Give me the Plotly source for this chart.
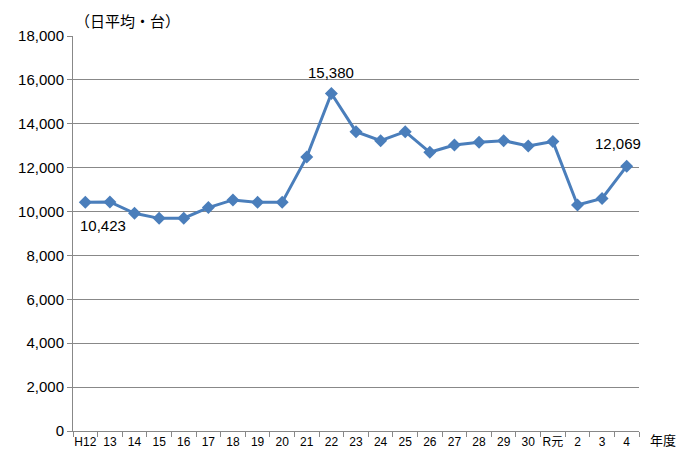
import plotly.graph_objects as go

years = ["H12", "13", "14", "15", "16", "17", "18", "19", "20", "21", "22", "23",
         "24", "25", "26", "27", "28", "29", "30", "R元", "2", "3", "4"]
values = [10423, 10440, 9920, 9690, 9700, 10180, 10530, 10420, 10420, 12490, 15380, 13640,
          13230, 13640, 12700, 13030, 13160, 13230, 12990, 13190, 10300, 10600, 12069]
# indices of labelled points
label_idx = [0, 10, 22]
label_text = ["10,423", "15,380", "12,069"]

fig = go.Figure()
fig.add_trace(go.Scatter(
    x=years, y=values, mode="lines+markers",
    line=dict(color="#4a7ebb", width=3),
    marker=dict(symbol="diamond", size=10, color="#4a7ebb"),
    cliponaxis=False, showlegend=False,
))

offsets = {0: (18, -23), 10: (0, 21), 22: (-9, 23)}
ann = []
for i, t in zip(label_idx, label_text):
    dx, dy = offsets[i]
    ann.append(dict(x=i, y=values[i], text=t, showarrow=False,
                    xshift=dx, yshift=dy, xanchor="center", yanchor="middle",
                    font=dict(size=15, family="Liberation Sans, Noto Sans", color="#000")))

ann.append(dict(text="（日平均・台）", xref="paper", yref="paper", x=0.0, y=1.0, yshift=16,
                xanchor="left", yanchor="middle", showarrow=False,
                font=dict(size=15, family="Noto Sans CJK JP", color="#000")))
ann.append(dict(text="年度", xref="paper", yref="paper", x=1.0, y=0, xshift=9, yshift=-8,
                xanchor="left", yanchor="middle", showarrow=False,
                font=dict(size=13, family="Noto Sans CJK JP", color="#000")))

fig.update_layout(
    width=677, height=448,
    margin=dict(l=65, r=46, t=28, b=25, autoexpand=False),
    paper_bgcolor="white", plot_bgcolor="white",
    font=dict(family="Liberation Sans, Noto Sans CJK JP", color="#000"),
    xaxis=dict(type="category", tickson="boundaries", ticks="outside", ticklen=5,
               tickcolor="#888", showline=True, linecolor="#888", linewidth=1,
               showgrid=False, tickangle=0, automargin=False,
               tickfont=dict(size=12, family="Liberation Sans, Noto Sans CJK JP"),
               range=[-0.5, len(years) - 0.5]),
    yaxis=dict(range=[0, 18000], dtick=2000, tickformat=",d", ticks="outside", ticklen=5,
               tickcolor="#888", showline=True, linecolor="#888", linewidth=1,
               gridcolor="#888", gridwidth=1, zeroline=False, automargin=False,
               tickfont=dict(size=15)),
    annotations=ann,
)

fig.write_html("out.html")
